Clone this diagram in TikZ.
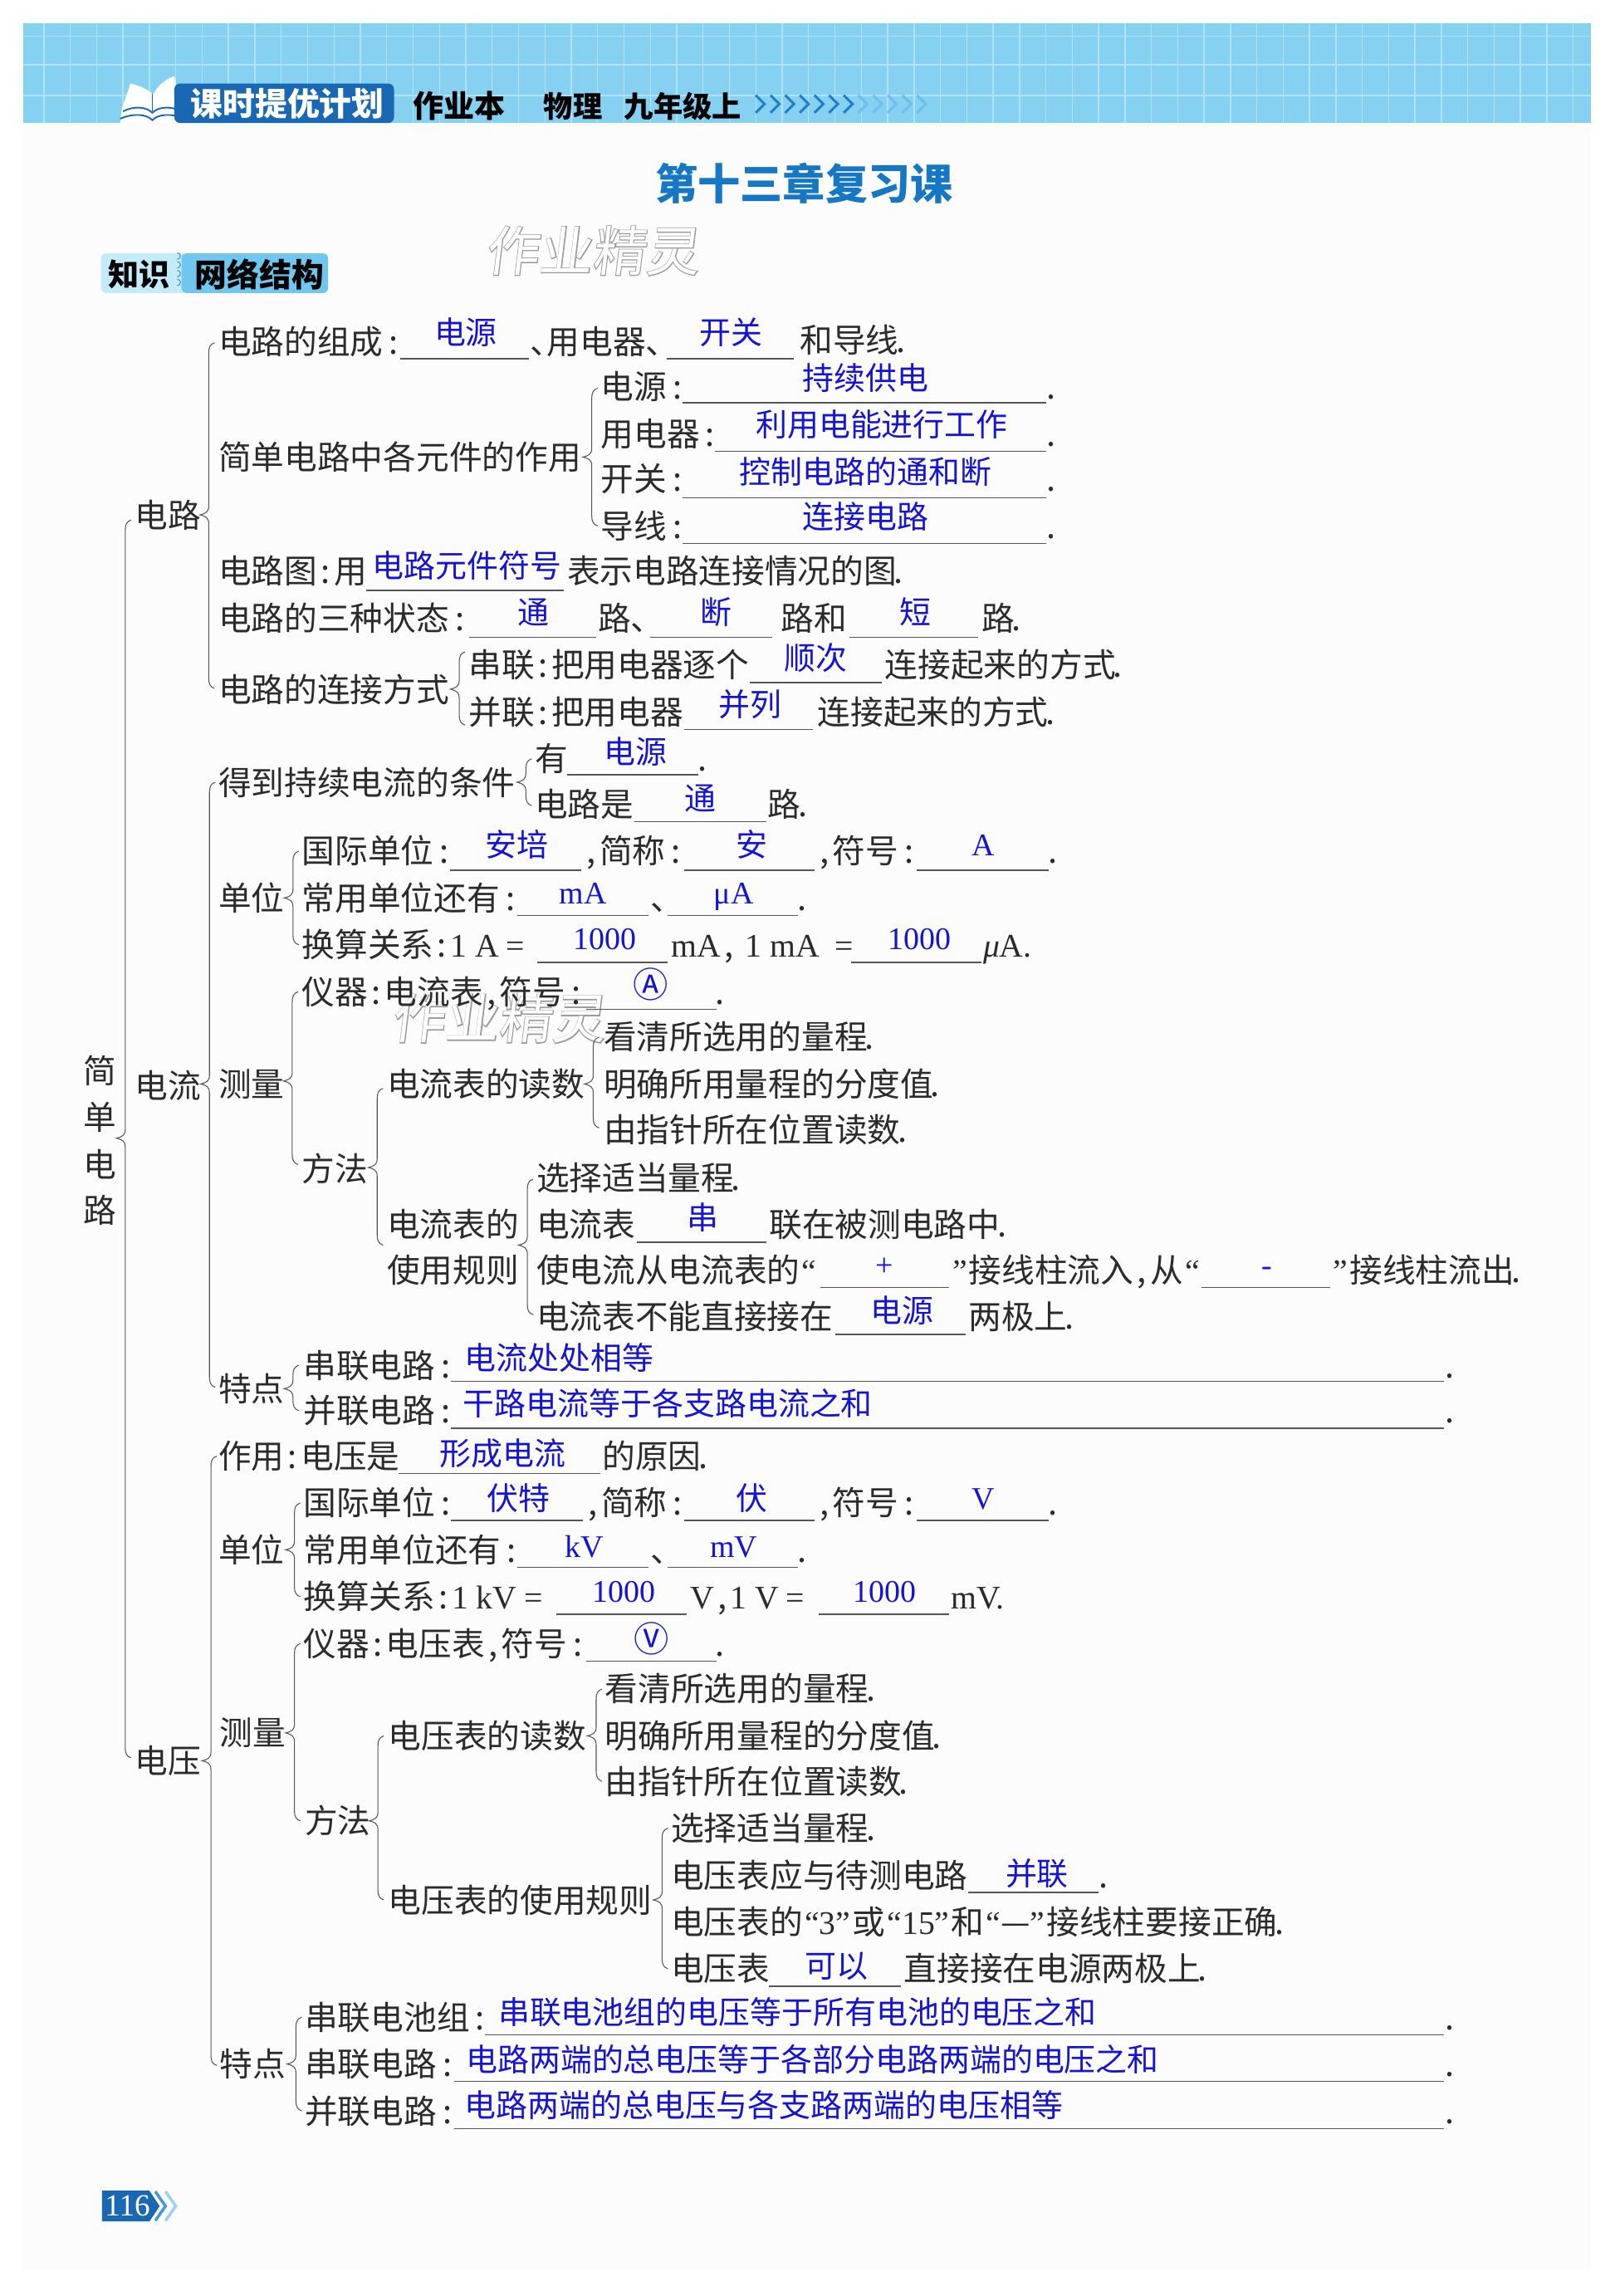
\documentclass[tikz,border=0pt]{standalone}
\usepackage{fontspec}
\setmainfont{Noto Sans CJK SC}
\newfontfamily\latf{Liberation Serif}
\newfontfamily\wmf[FakeBold=3]{Noto Sans CJK SC}
\definecolor{ink}{HTML}{2B2B2B}
\definecolor{ansb}{HTML}{1414D2}
\definecolor{linec}{HTML}{555555}
\definecolor{hdr}{HTML}{86D0F2}
\definecolor{hdrl}{HTML}{AEE3F8}
\definecolor{navy}{HTML}{1A68B4}
\definecolor{titleb}{HTML}{1678C4}
\definecolor{chevd}{HTML}{1F7FC8}
\definecolor{chevl}{HTML}{6CC0EE}
\definecolor{tagl}{HTML}{C4EBF9}
\definecolor{tagd}{HTML}{6FC6EE}
\definecolor{wmc}{HTML}{9A9A9A}
\newcommand\lat[1]{{\latf #1}}
\newcommand\Cn{\makebox[.5em][c]{:}}
\newcommand\Cf{\makebox[1em][l]{\hspace{.18em}:}}
\newcommand\Cm{\makebox[.5em][c]{,}}
\newcommand\Dn{\makebox[.5em][l]{\hspace{-.08em}.}}
\newcommand\Dq{\makebox[.5em][l]{、}}
\newcommand\LQ{\makebox[.5em][r]{\lat{“}}}
\newcommand\RQ{\makebox[.5em][l]{\lat{”}}}
\newcommand\Eq{\makebox[1em][c]{\lat{=}}}
\newcommand\Wm{\rlap{\color{wmc}\wmf 作业精灵}\color{white}作业精灵}
\newcounter{nn}
\tikzset{
 txt/.style={text=ink,anchor=base west,inner sep=0pt,font=\fontsize{22.5}{24}\selectfont},
 ans/.style={text=ansb,anchor=base,inner sep=0pt,font=\fontsize{21.5}{24}\selectfont},
 ansl/.style={ans,anchor=base west},
 rule/.style={draw=linec,line width=.8pt},
 bracepath/.style={draw=linec,line width=.6pt},
 wm/.style={anchor=base west,inner sep=0pt,font=\fontsize{36.5}{37}\selectfont,xslant=.12},
}
\newcommand\Tx[3]{\stepcounter{nn}\node[txt] (t\thenn) at (#1,#2+8.5) {#3};}
\newcommand\An[3]{\stepcounter{nn}\node[ans] (a\thenn) at (#1,#2+8) {#3};}
\newcommand\Al[3]{\stepcounter{nn}\node[ansl] (a\thenn) at (#1,#2+8) {#3};}
\newcommand\Ul[3]{\draw[rule] (#1,#3) -- (#2,#3);}
\newcommand\Br[4]{\draw[bracepath] (#1+4,#2) .. controls (#1+1,#2+1) and (#1,#2+3) .. (#1,#2+7) -- (#1,#3-6) .. controls (#1,#3-2) and (#1-2,#3-1) .. (#1-6,#3) .. controls (#1-2,#3+1) and (#1,#3+2) .. (#1,#3+6) -- (#1,#4-7) .. controls (#1,#4-3) and (#1+1,#4-1) .. (#1+4,#4);}
\begin{document}
\begin{tikzpicture}[x=1pt,y=-1pt]
\useasboundingbox (0,0) rectangle (1102,1567.4);
\fill[white] (0,0) rectangle (1102,1567.4);
\fill[black!1] (15,16) rectangle (1086,1550);
% header band
\fill[hdr] (16,16) rectangle (1086,84);
\foreach \yy in {24.6,44.4,65}{\draw[hdrl,line width=1pt] (16,\yy) -- (1086,\yy);}
\foreach \xx in {30,48,...,1086}{\draw[hdrl,line width=.8pt] (\xx,16) -- (\xx,84);}
% book icon
\fill[white] (104,64) .. controls (99,60) and (94,58) .. (89,57) -- (83,75) -- (82,84) -- (126,84) -- (124,75) -- (119,52) .. controls (113,54) and (108,58) .. (105,64) -- cycle;
\draw[navy,line width=.9pt] (104,64) -- (104,76);
\draw[navy,line width=1.1pt] (84,76) .. controls (92,72) and (100,73) .. (104,77) .. controls (108,73) and (116,72) .. (124,76);
\draw[navy,line width=1.1pt] (82,81) .. controls (92,77) and (100,78) .. (104,82) .. controls (108,78) and (116,77) .. (126,81);
% badge
\fill[navy,rounded corners=4pt] (119,57) rectangle (269,84);
\node[anchor=base west,inner sep=0pt,text=white,font=\fontsize{22}{24}\bfseries\selectfont] (badge) at (130,79) {课时提优计划};
\node[anchor=base west,inner sep=0pt,text=black,font=\fontsize{21}{24}\bfseries\selectfont] (zyb) at (282,80) {作业本};
\node[anchor=base west,inner sep=0pt,text=black,font=\fontsize{20}{24}\bfseries\selectfont] (wl) at (371,80) {物理};
\node[anchor=base west,inner sep=0pt,text=black,font=\fontsize{20}{24}\bfseries\selectfont] (nj) at (426,80) {九年级上};
\foreach \i in {0,...,6}{\draw[chevd,line width=1.7pt] (516+10*\i,65) -- (522+10*\i,71) -- (516+10*\i,77);}
\foreach \i in {7,...,11}{\draw[chevl,line width=1.7pt] (516+10*\i,65) -- (522+10*\i,71) -- (516+10*\i,77);}
% title
\node[anchor=center,inner sep=0pt,text=titleb,font=\fontsize{29}{30}\bfseries\selectfont] (title) at (549,125) {第十三章复习课};
% section tag
\fill[tagl,rounded corners=3pt] (69,173) rectangle (128,200);
\fill[tagd,rounded corners=3pt] (124,173) rectangle (224,200);
\foreach \yy in {177,183,189,195}{\draw[navy!70,line width=.7pt] (121,\yy) arc (90:-90:2.2);}
\node[anchor=base west,inner sep=0pt,text=black,font=\fontsize{21}{24}\bfseries\selectfont] (zs) at (74,195.5) {知识};
\node[anchor=base west,inner sep=0pt,text=black,font=\fontsize{22}{24}\bfseries\selectfont] (wljg) at (133,196) {网络结构};
% watermarks (under the text)
\node[wm] (wm1) at (331,185) {\Wm};
\node[wm] (wm2) at (267,709) {\Wm};
% root column
\Tx{57}{731}{简}\Tx{57}{763}{单}\Tx{57}{795}{电}\Tx{57}{826}{路}
\Br{85.5}{355}{777}{1200}
\Tx{92}{352}{电路}\Tx{92}{741}{电流}\Tx{92}{1202}{电压}
% ---- 电路
\Br{142.5}{234}{351.5}{470}
\Tx{149}{233}{电路的组成\Cf}\Ul{273}{361}{245}\An{318}{227}{电源}
\Tx{362}{233}{\Dq 用电器\Dq}\Ul{455}{542}{245}\An{499}{227}{开关}\Tx{546}{232}{和导线\Dn}
\Tx{149}{312}{简单电路中各元件的作用}
\Br{404}{265}{312}{359}
\Tx{410}{264}{电源\Cf}\Ul{466}{714}{275}\An{591}{258}{持续供电}\Tx{716}{264}{\Dn}
\Tx{410}{296}{用电器\Cf}\Ul{488}{714}{308}\An{602}{290}{利用电能进行工作}\Tx{716}{296}{\Dn}
\Tx{410}{327}{开关\Cf}\Ul{466}{714}{340}\An{591}{322}{控制电路的通和断}\Tx{716}{327}{\Dn}
\Tx{410}{359}{导线\Cf}\Ul{466}{714}{371}\An{591}{353}{连接电路}\Tx{716}{359}{\Dn}
\Tx{149}{390}{电路图\Cn 用}\Ul{250}{385}{403}\An{319}{386}{电路元件符号}\Tx{387}{390}{表示电路连接情况的图\Dn}
\Tx{149}{422}{电路的三种状态\Cf}\Ul{320}{407}{435}\An{364}{418}{通}\Tx{408}{422}{路\Dq}\Ul{444}{527}{435}\An{489}{418}{断}\Tx{533}{422}{路和}\Ul{580}{668}{435}\An{625}{418}{短}\Tx{670}{422}{路\Dn}
\Tx{149}{471}{电路的连接方式}
\Br{313.5}{445}{470.5}{495}
\Tx{320}{454}{串联\Cn 把用电器逐个}\Ul{512}{602}{466}\An{557}{449}{顺次}\Tx{604}{454}{连接起来的方式\Dn}
\Tx{320}{486}{并联\Cn 把用电器}\Ul{467}{555}{498}\An{512}{481}{并列}\Tx{558}{486}{连接起来的方式\Dn}
% ---- 电流
\Br{143}{534}{740}{947}
\Tx{149}{534}{得到持续电流的条件}
\Br{359}{518}{534}{550}
\Tx{365}{518}{有}\Ul{387}{477}{529}\An{434}{513}{电源}\Tx{478}{518}{\Dn}
\Tx{365}{549}{电路是}\Ul{433}{523}{561}\An{478}{545}{通}\Tx{524}{549}{路\Dn}
\Tx{149}{613}{单位}
\Br{200}{581}{613}{645}
\Tx{206}{581}{国际单位\Cf}\Ul{307}{397}{594}\An{353}{577}{安培}\Tx{398}{581}{\Cm 简称\Cf}\Ul{467}{556}{594}\An{513}{577}{安}\Tx{557}{581}{\Cm 符号\Cf}\Ul{626}{716}{594}\An{671}{576}{\lat{A}}\Tx{717}{581}{\Dn}
\Tx{206}{613}{常用单位还有\Cf}\Ul{353}{443}{625}\An{398}{609}{\lat{mA}}\Tx{444}{613}{\Dq}\Ul{456}{545}{625}\An{501}{609}{\lat{μA}}\Tx{546}{613}{\Dn}
\Tx{206}{645}{换算关系\Cn\lat{1 A}\Eq}\Ul{367}{456}{657}\An{413}{640}{\lat{1000}}\Tx{458}{645}{\lat{mA}\Cm\hspace{.25em}\lat{1 mA}\hspace{.25em}\Eq}\Ul{581}{670}{657}\An{628}{640}{\lat{1000}}\Tx{671}{645}{\lat{\textit{μ}A.}}
\Tx{149}{740}{测量}
\Br{199.5}{677}{738}{795}
\Tx{206}{677}{仪器\Cn 电流表\Cm 符号\Cf}\Ul{400}{489}{689}\An{444}{673}{\fontsize{24}{24}\selectfont Ⓐ}\Tx{490}{677}{\Dn}
\Tx{206}{798}{方法}
\Br{257.5}{743}{797}{850}
\Tx{264}{740}{电流表的读数}
\Br{405}{708}{740}{770}
\Tx{412}{708}{看清所选用的量程\Dn}
\Tx{412}{740}{明确所用量程的分度值\Dn}
\Tx{412}{771}{由指针所在位置读数\Dn}
\Tx{264}{836}{电流表的}\Tx{264}{867}{使用规则}
\Br{360}{805}{850}{897.5}
\Tx{366}{804}{选择适当量程\Dn}
\Tx{366}{836}{电流表}\Ul{435}{523}{848}\An{480}{831}{串}\Tx{525}{836}{联在被测电路中\Dn}
\Tx{366}{867}{使电流从电流表的\LQ}\Ul{560}{648}{879}\An{604}{863}{\lat{+}}\Tx{650}{867}{\RQ 接线柱流入\Cm 从\LQ}\Ul{820}{908}{879}\An{865}{863}{\lat{-}}\Tx{910}{867}{\RQ 接线柱流出\Dn}
\Tx{366}{899}{电流表不能直接接在}\Ul{570}{659}{911}\An{616}{895}{电源}\Tx{661}{899}{两极上\Dn}
\Tx{149}{948}{特点}
\Br{200}{932}{948}{963}
\Tx{207}{932}{串联电路\Cf}\Ul{308}{986}{943}\Al{317}{927}{电流处处相等}\Tx{988}{932}{\Dn}
\Tx{207}{963}{并联电路\Cf}\Ul{308}{986}{975}\Al{316}{958}{干路电流等于各支路电流之和}\Tx{988}{963}{\Dn}
% ---- 电压
\Br{144}{994}{1202}{1410}
\Tx{149}{994}{作用\Cn 电压是}\Ul{272}{410}{1006}\An{343}{992}{形成电流}\Tx{411}{994}{的原因\Dn}
\Tx{149}{1058}{单位}
\Br{201}{1026}{1058}{1090}
\Tx{207}{1026}{国际单位\Cf}\Ul{308}{398}{1038}\An{354}{1023}{伏特}\Tx{399}{1026}{\Cm 简称\Cf}\Ul{467}{556}{1038}\An{513}{1023}{伏}\Tx{557}{1026}{\Cm 符号\Cf}\Ul{626}{716}{1038}\An{671}{1022}{\lat{V}}\Tx{717}{1026}{\Dn}
\Tx{207}{1058}{常用单位还有\Cf}\Ul{353}{443}{1070}\An{399}{1055}{\lat{kV}}\Tx{444}{1058}{\Dq}\Ul{456}{545}{1070}\An{501}{1055}{\lat{mV}}\Tx{546}{1058}{\Dn}
\Tx{207}{1090}{换算关系\Cn\lat{1 kV}\Eq}\Ul{380}{469}{1102}\An{426}{1086}{\lat{1000}}\Tx{471}{1090}{\lat{V}\Cm\lat{1 V}\Eq}\Ul{559}{648}{1102}\An{604}{1086}{\lat{1000}}\Tx{649}{1090}{\lat{mV.}}
\Tx{150}{1183}{测量}
\Br{201}{1122}{1183}{1243}
\Tx{207}{1122}{仪器\Cn 电压表\Cm 符号\Cf}\Ul{400}{489}{1134}\An{445}{1120}{\fontsize{24}{24}\selectfont Ⓥ}\Tx{490}{1122}{\Dn}
\Tx{208}{1243}{方法}
\Br{258}{1185}{1243}{1297}
\Tx{265}{1185}{电压表的读数}
\Br{407}{1153}{1185}{1216}
\Tx{413}{1153}{看清所选用的量程\Dn}
\Tx{413}{1185}{明确所用量程的分度值\Dn}
\Tx{413}{1216}{由指针所在位置读数\Dn}
\Tx{265}{1297}{电压表的使用规则}
\Br{452}{1248}{1297}{1344}
\Tx{458}{1248}{选择适当量程\Dn}
\Tx{458}{1280}{电压表应与待测电路}\Ul{661}{750}{1292}\An{708}{1279}{并联}\Tx{752}{1280}{\Dn}
\Tx{458}{1312}{电压表的\LQ\lat{3}\RQ 或\LQ\lat{15}\RQ 和\LQ —\RQ 接线柱要接正确\Dn}
\Tx{458}{1344}{电压表}\Ul{525}{615}{1356}\An{571}{1342}{可以}\Tx{617}{1344}{直接接在电源两极上\Dn}
\Tx{150}{1409}{特点}
\Br{202}{1377}{1409}{1441}
\Tx{208}{1377}{串联电池组\Cf}\Ul{331}{986}{1389}\Al{340}{1374}{串联电池组的电压等于所有电池的电压之和}\Tx{988}{1377}{\Dn}
\Tx{208}{1409}{串联电路\Cf}\Ul{310}{986}{1421}\Al{318}{1406}{电路两端的总电压等于各部分电路两端的电压之和}\Tx{988}{1409}{\Dn}
\Tx{208}{1441}{并联电路\Cf}\Ul{310}{986}{1453}\Al{317}{1437}{电路两端的总电压与各支路两端的电压相等}\Tx{988}{1441}{\Dn}
% page number
\fill[navy] (69.7,1495.5) -- (102,1495.5) -- (109,1506) -- (102,1516.5) -- (69.7,1516.5) -- cycle;
\node[anchor=center,inner sep=0pt,text=white,font=\fontsize{21}{22}\latf\selectfont] (pg) at (87,1506) {116};
\draw[chevd!80,line width=2pt] (106,1496) -- (113,1506) -- (106,1516);
\draw[chevl!70,line width=2pt] (113,1496) -- (120,1506) -- (113,1516);
\end{tikzpicture}
\end{document}
